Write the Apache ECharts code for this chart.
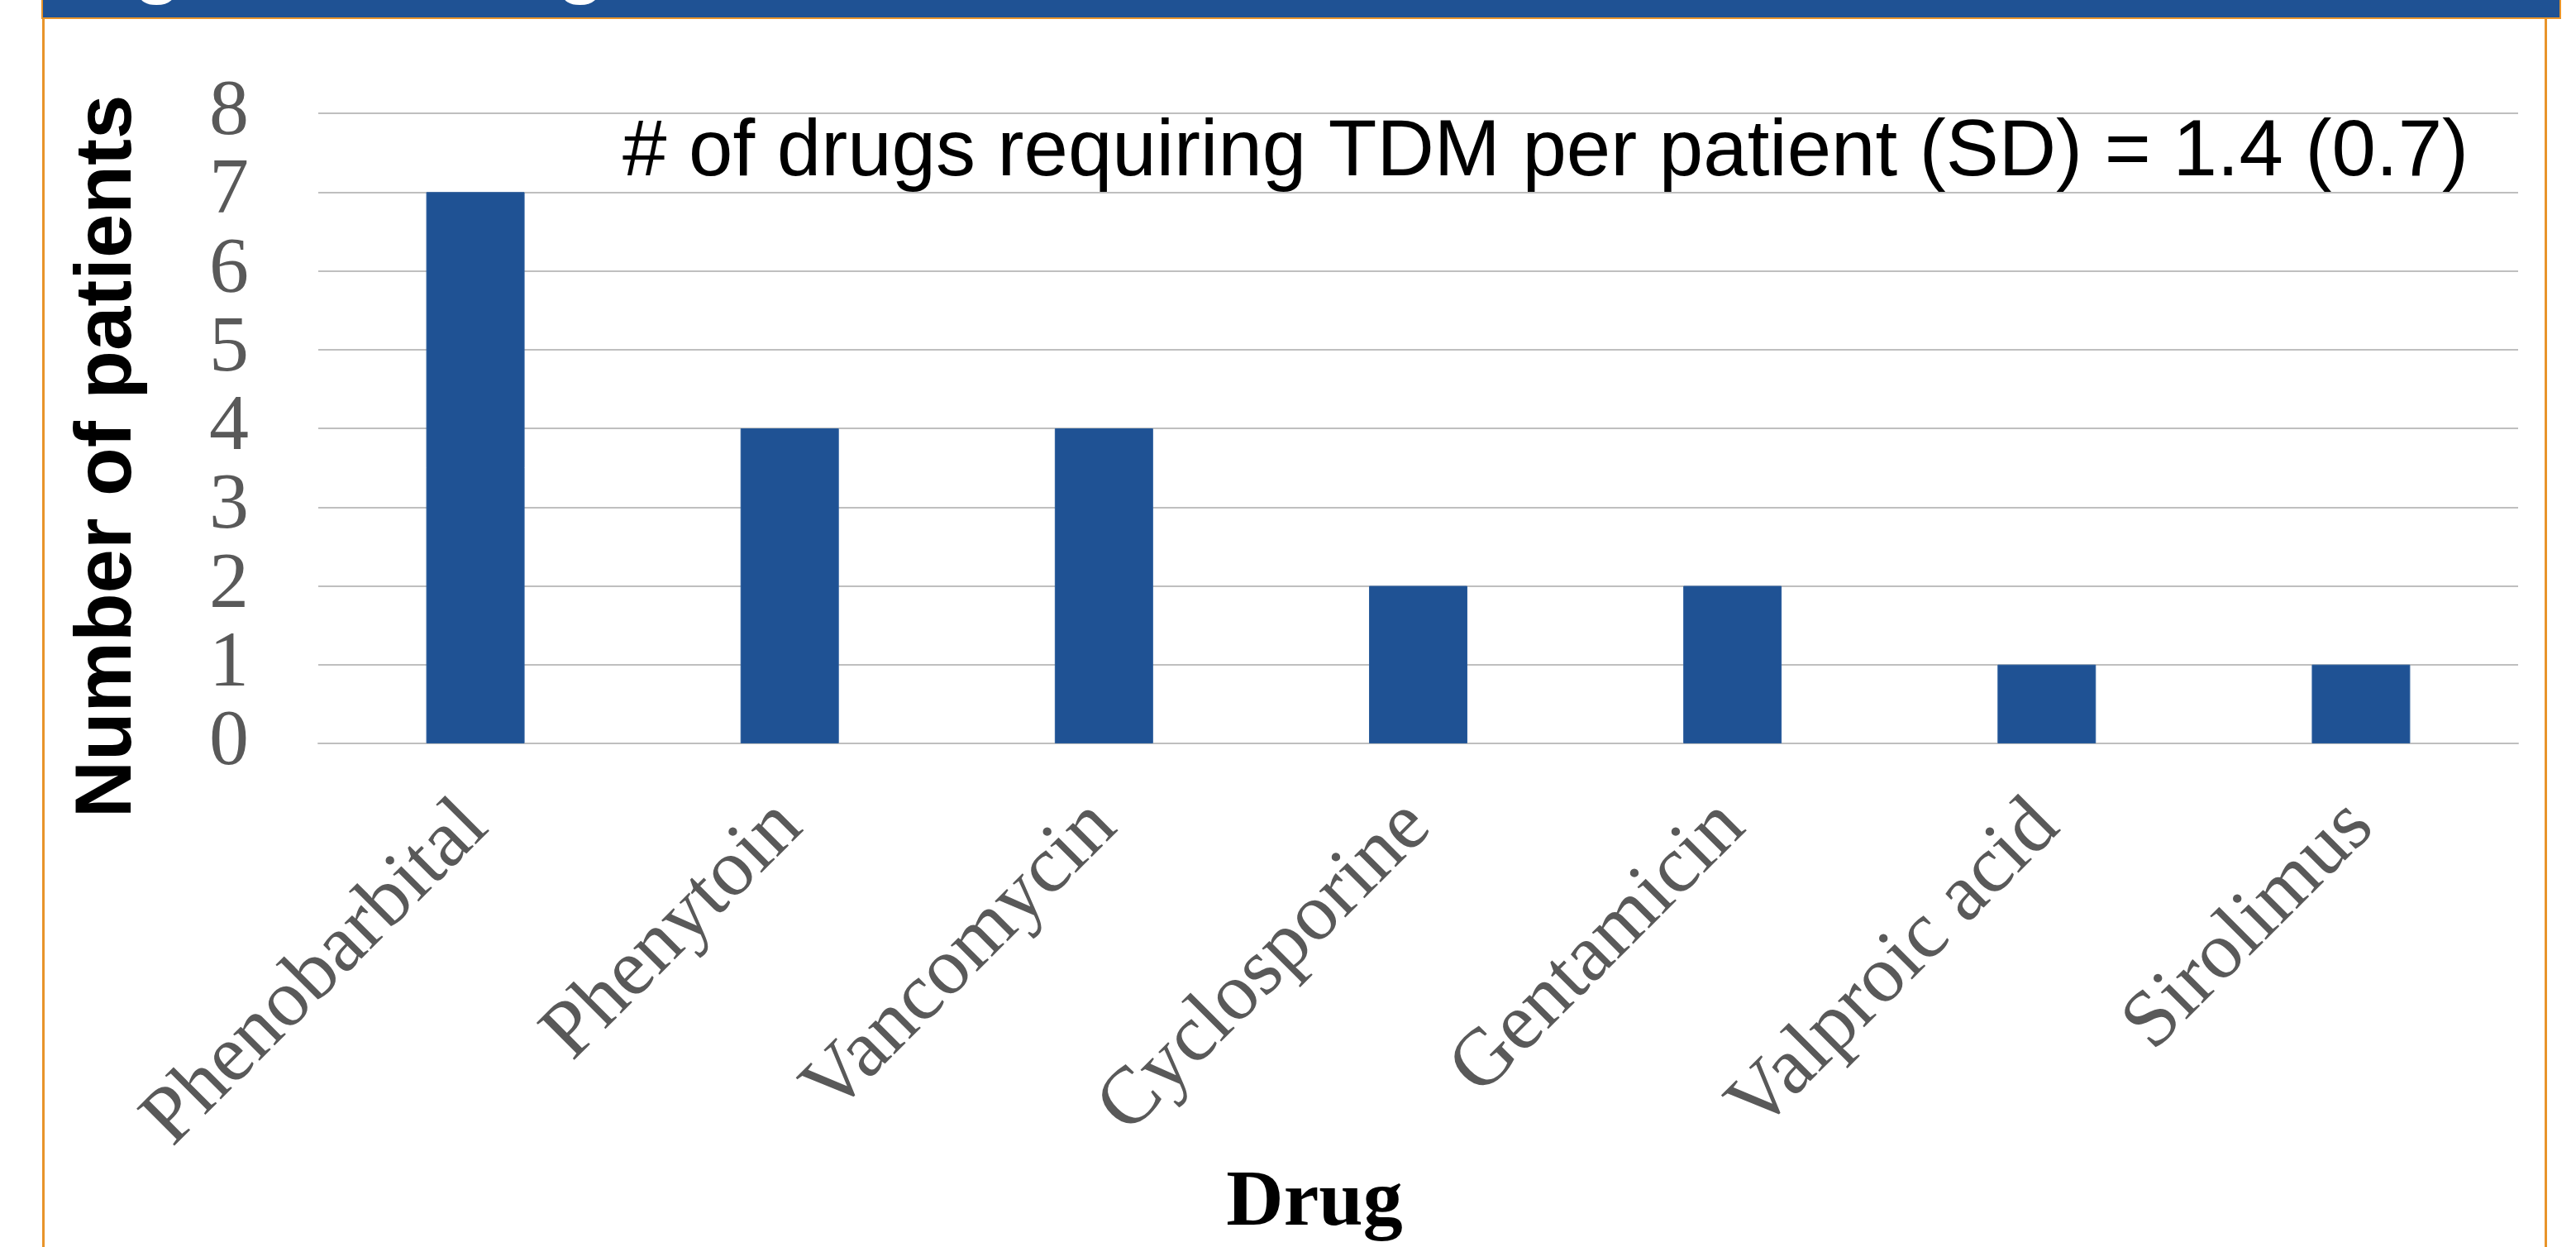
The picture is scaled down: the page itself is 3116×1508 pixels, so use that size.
<!DOCTYPE html>
<html>
<head>
<meta charset="utf-8">
<script src="https://cdn.jsdelivr.net/npm/echarts@6/dist/echarts.min.js"></script>
<style>
  html, body { margin: 0; padding: 0; background: #ffffff; }
  #chart { width: 3116px; height: 1508px; }
</style>
</head>
<body>
<div id="chart"></div>
<script>
// Drugs that needed therapeutic drug monitoring, and how many patients received each
const drugs = ['Phenobarbital', 'Phenytoin', 'Vancomycin', 'Cyclosporine', 'Gentamicin', 'Valproic acid', 'Sirolimus'];
const patientCounts = [7, 4, 4, 2, 2, 1, 1];

// Value axis range and its tick labels (split over two stacked axes so the
// large numerals are never thinned out by the overlap check)
const yMin = 0;
const yMax = 8;
const yStep = 1;
const yLabelsEven = [0, 2, 4, 6, 8];
const yLabelsOdd = [1, 3, 5, 7];

// Text
const panelTitle = 'Figure 1: Drugs';
const yTitle = 'Number of patients';
const xTitle = 'Drug';
const note = '# of drugs requiring TDM per patient (SD) = 1.4 (0.7)';

const BLUE = '#1f5294';
const ORANGE = '#e8942a';
const GRID = '#bfbfbf';
const LABEL_GREY = '#595959';

const chart = echarts.init(document.getElementById('chart'), null, { renderer: 'canvas' });

function valueAxis(labelValues, withGrid) {
  return {
    type: 'value',
    position: 'left',
    offset: 0,
    min: yMin,
    max: yMax,
    interval: yStep,
    axisLine: { show: false },
    axisTick: { show: false },
    splitLine: { show: withGrid, lineStyle: { color: GRID, width: 2 } },
    axisLabel: {
      customValues: labelValues,
      margin: 84,
      color: LABEL_GREY,
      fontFamily: 'Liberation Serif',
      fontSize: 96
    }
  };
}

chart.setOption({
  animation: false,
  backgroundColor: '#ffffff',
  grid: { left: 385, right: 70, top: 137, bottom: 609, containLabel: false },
  xAxis: {
    type: 'category',
    data: drugs,
    axisLine: { show: true, lineStyle: { color: GRID, width: 2 } },
    axisTick: { show: false },
    axisLabel: {
      interval: 0,
      rotate: 45,
      margin: 86,
      color: LABEL_GREY,
      fontFamily: 'Liberation Serif',
      fontSize: 98
    }
  },
  yAxis: [valueAxis(yLabelsEven, true), valueAxis(yLabelsOdd, false)],
  series: [{
    type: 'bar',
    yAxisIndex: 0,
    data: patientCounts,
    barWidth: '31.3%',
    itemStyle: { color: BLUE, borderColor: '#2b5d9c', borderWidth: 1 }
  }],
  graphic: [
    // panel frame: orange side rules
    { type: 'rect', shape: { x: 51, y: 22, width: 3, height: 1500 }, style: { fill: ORANGE }, silent: true },
    { type: 'rect', shape: { x: 3078, y: 22, width: 3, height: 1500 }, style: { fill: ORANGE }, silent: true },
    // header band
    { type: 'rect', shape: { x: 51, y: -4, width: 3046, height: 26 }, style: { fill: BLUE, stroke: ORANGE, lineWidth: 2 }, silent: true },
    {
      type: 'text', x: 76, y: -40, silent: true,
      style: {
        text: panelTitle, fill: '#ffffff',
        font: 'bold 96px "Liberation Sans"',
        textAlign: 'left', textVerticalAlign: 'middle',
        shadowColor: 'rgba(0,0,0,0.9)', shadowBlur: 3, shadowOffsetX: 3, shadowOffsetY: 3
      }
    },
    // value axis title
    {
      type: 'text', x: 132, y: 552, rotation: Math.PI / 2, silent: true,
      style: {
        text: yTitle, fill: '#000000',
        font: 'bold 96px "Liberation Sans"',
        textAlign: 'center', textVerticalAlign: 'middle'
      }
    },
    // category axis title
    {
      type: 'text', x: 1590, y: 1456, silent: true,
      style: {
        text: xTitle, fill: '#000000',
        font: 'bold 96px "Liberation Serif"',
        textAlign: 'center', textVerticalAlign: 'middle'
      }
    },
    // summary note
    {
      type: 'text', x: 753, y: 186, silent: true,
      style: {
        text: note, fill: '#000000',
        font: '96px "Liberation Sans"',
        textAlign: 'left', textVerticalAlign: 'middle'
      }
    }
  ]
});
</script>
</body>
</html>
